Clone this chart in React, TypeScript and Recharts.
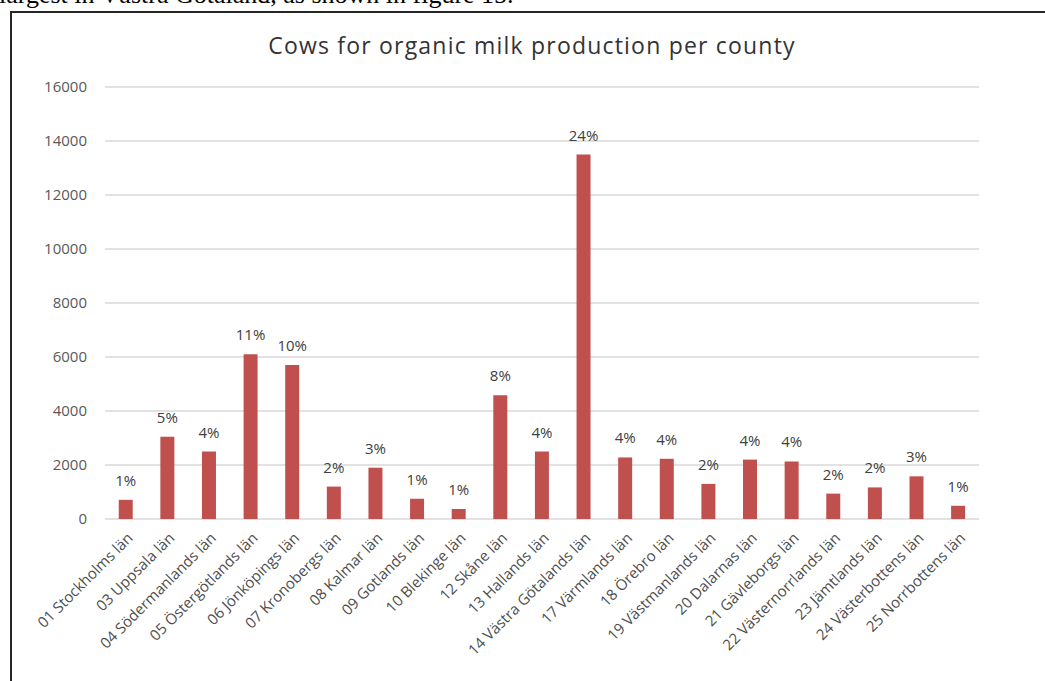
import React from 'react';
import { BarChart, Bar, XAxis, YAxis, CartesianGrid, LabelList } from 'recharts';

// Organic dairy cows per county, with each county's share of the total
const counties = [
  '01 Stockholms län', '03 Uppsala län', '04 Södermanlands län', '05 Östergötlands län',
  '06 Jönköpings län', '07 Kronobergs län', '08 Kalmar län', '09 Gotlands län',
  '10 Blekinge län', '12 Skåne län', '13 Hallands län', '14 Västra Götalands län',
  '17 Värmlands län', '18 Örebro län', '19 Västmanlands län', '20 Dalarnas län',
  '21 Gävleborgs län', '22 Västernorrlands län', '23 Jämtlands län', '24 Västerbottens län',
  '25 Norrbottens län',
];
const cows = [
  710, 3050, 2500, 6100, 5700, 1200, 1900, 750, 370, 4580, 2500, 13500,
  2280, 2230, 1300, 2200, 2130, 940, 1170, 1580, 490,
];
const shares = [1, 5, 4, 11, 10, 2, 3, 1, 1, 8, 4, 24, 4, 4, 2, 4, 4, 2, 2, 3, 1];
const yTicks = [0, 2000, 4000, 6000, 8000, 10000, 12000, 14000, 16000];

const FONT = '"Open Sans", "Noto Sans", sans-serif';
const BAR = '#c0504d';

const data = counties.map((name, i) => ({ name, cows: cows[i], share: `${shares[i]}%` }));

const CountyTick = ({ x, y, payload }: any) => {
  const tx = x + 8;
  const ty = y + 12;
  return (
    <text x={tx} y={ty} transform={`rotate(-45 ${tx} ${ty})`} textAnchor="end"
      fontFamily={FONT} fontSize={15} fill="#4d4d4d">
      {payload.value}
    </text>
  );
};

export default function App() {
  return (
    <div style={{ position: 'absolute', left: 0, top: 0, width: 1045, height: 681, overflow: 'hidden', background: '#fff' }}>
      <div style={{ position: 'absolute', left: -1, top: -20, fontFamily: '"Liberation Serif", serif', fontSize: 26, whiteSpace: 'nowrap', color: '#000' }}>
        largest in Västra Götaland, as shown in figure 15.
      </div>
      <div style={{ position: 'absolute', left: 10, top: 11, width: 1100, height: 720, border: '2px solid #262626' }} />
      <div style={{ position: 'absolute', left: 0, top: 29, width: 1064, textAlign: 'center', fontFamily: FONT, fontSize: 23, letterSpacing: 1.2, color: '#333' }}>
        Cows for organic milk production per county
      </div>
      <div style={{ position: 'absolute', left: 0, top: 0 }}>
        <BarChart width={1045} height={681} data={data} barCategoryGap="33%"
          margin={{ top: 87, right: 0, bottom: 0, left: 0 }}>
          <CartesianGrid vertical={false} stroke="#d9d9d9" strokeWidth={1.5} yAxisId="left" />
          <XAxis dataKey="name" interval={0} height={162} axisLine={false} tickLine={false} tick={<CountyTick />} />
          <YAxis yAxisId="left" orientation="left" width={105} domain={[0, 16000]} ticks={yTicks}
            axisLine={false} tickLine={false} tickMargin={12}
            tick={{ fontFamily: FONT, fontSize: 15, fill: '#595959' }} />
          <YAxis yAxisId="right" orientation="right" width={66} domain={[0, 16000]} ticks={yTicks}
            axisLine={false} tickLine={false} tickMargin={11}
            tick={{ fontFamily: FONT, fontSize: 15, fill: '#595959', textAnchor: 'start' }} />
          <Bar yAxisId="left" dataKey="cows" fill={BAR} isAnimationActive={false}>
            <LabelList dataKey="share" position="top" offset={14}
              style={{ fontFamily: FONT, fontSize: 15, fill: '#404040' }} />
          </Bar>
        </BarChart>
      </div>
    </div>
  );
}
